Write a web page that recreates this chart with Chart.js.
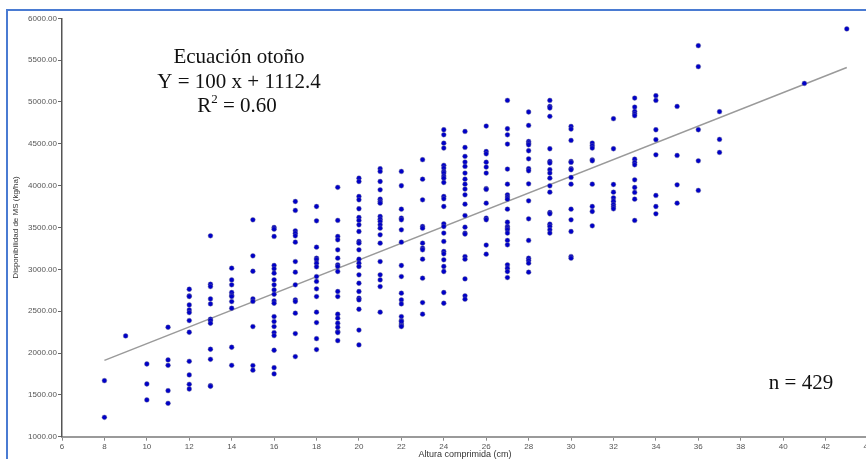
<!DOCTYPE html>
<html>
<head>
<meta charset="utf-8">
<title>Disponibilidad de MS vs altura comprimida</title>
<script src="https://cdn.jsdelivr.net/npm/chart.js@4/dist/chart.umd.min.js"></script>
<style>
  html, body { margin: 0; padding: 0; background: #ffffff; overflow: hidden; }
  #wrap { position: relative; width: 880px; height: 470px; }
</style>
</head>
<body>
<div id="wrap"><canvas id="chart" width="880" height="470"></canvas></div>
<script>
// Altura comprimida (cm) de cada grupo de muestras
const alturas = [8, 9, 10, 11, 12, 13, 14, 15, 16, 17, 18, 19, 20, 21, 22, 23, 24, 25, 26,
                 27, 28, 29, 30, 31, 32, 33, 34, 35, 36, 37, 41, 43];

// Disponibilidad de MS (kg/ha) medida en cada altura
const disponibilidad = [
  [1670, 1231],
  [2204],
  [1869, 1630, 1439],
  [2308, 1917, 1853, 1550, 1399],
  [2762, 2683, 2675, 2575, 2515, 2483, 2388, 2248, 1901, 1738, 1626, 1570],
  [3401, 2822, 2794, 2647, 2587, 2404, 2388, 2356, 2045, 1925, 1610, 1602],
  [3014, 2874, 2815, 2723, 2691, 2675, 2615, 2535, 2069, 1853],
  [3592, 3161, 2977, 2647, 2617, 2316, 1850, 1795],
  [3500, 3480, 3393, 3046, 3006, 2954, 2875, 2815, 2754, 2702, 2623, 2595, 2435, 2376, 2316, 2244, 2208, 2033, 1825, 1750],
  [3811, 3704, 3460, 3432, 3400, 3325, 3093, 2966, 2815, 2635, 2615, 2476, 2232, 1957],
  [3751, 3580, 3265, 3133, 3114, 3074, 3030, 2914, 2855, 2767, 2675, 2488, 2364, 2172, 2041],
  [3980, 3585, 3393, 3353, 3233, 3133, 3054, 3034, 2974, 2735, 2675, 2464, 2416, 2356, 2308, 2256, 2244, 2148],
  [4090, 4050, 3871, 3831, 3724, 3620, 3585, 3532, 3452, 3333, 3313, 3233, 3121, 3074, 3034, 2934, 2834, 2735, 2655, 2635, 2523, 2274, 2097],
  [4202, 4170, 4050, 3950, 3839, 3811, 3791, 3632, 3600, 3572, 3532, 3492, 3413, 3313, 3093, 2934, 2874, 2794, 2488],
  [4170, 3999, 3719, 3612, 3592, 3472, 3325, 3046, 2914, 2715, 2635, 2587, 2435, 2388, 2348, 2376, 2328, 2316],
  [4310, 4077, 3831, 3512, 3492, 3313, 3253, 3233, 3121, 2894, 2603, 2464],
  [4668, 4608, 4508, 4449, 4243, 4210, 4170, 4150, 4114, 4090, 4038, 3871, 3843, 3751, 3544, 3512, 3433, 3333, 3213, 3186, 3114, 3034, 2974, 2723, 2595],
  [4648, 4457, 4350, 4282, 4230, 4150, 4078, 4018, 3959, 3890, 3779, 3643, 3504, 3433, 3421, 3153, 3121, 2886, 2683, 2643],
  [4712, 4408, 4380, 4280, 4222, 4150, 3965, 3955, 3791, 3612, 3592, 3290, 3181],
  [5019, 4680, 4608, 4497, 4198, 4018, 3891, 3863, 3839, 3719, 3564, 3512, 3492, 3472, 3433, 3345, 3293, 3054, 3014, 2974, 2902],
  [4880, 4720, 4528, 4508, 4488, 4417, 4321, 4202, 4178, 4022, 3819, 3604, 3345, 3133, 3106, 3074, 2966],
  [5019, 4948, 4928, 4828, 4441, 4290, 4270, 4190, 4150, 4090, 3998, 3922, 3679, 3664, 3540, 3512, 3472, 3433],
  [4708, 4676, 4541, 4290, 4278, 4202, 4190, 4098, 4018, 3719, 3592, 3452, 3153, 3133],
  [4509, 4477, 4449, 4309, 4297, 4018, 3751, 3691, 3520],
  [4800, 4441, 4014, 3922, 3855, 3815, 3775, 3747, 3723],
  [5047, 4939, 4887, 4859, 4836, 4317, 4277, 4249, 4070, 3978, 3919, 3839, 3584],
  [5075, 5019, 4668, 4549, 4369, 3883, 3751, 3664],
  [4947, 4361, 4010, 3791],
  [5673, 5422, 4668, 4297, 3943],
  [4884, 4553, 4397],
  [5222],
  [5873]
];

// Recta de ajuste: Y = 100 x + 1112.4, trazada entre la menor y la mayor altura
const pendiente = 100;
const intercepto = 1112.4;
const rangoRecta = [8, 43];

// Textos del gráfico
const tituloEcuacion = 'Ecuación otoño';
const textoEcuacion = 'Y = 100 x + 1112.4';
const textoR2 = ['R', '2', ' = 0.60'];
const textoN = 'n = 429';
const tituloX = 'Altura comprimida (cm)';
const tituloY = 'Disponibilidad de MS (kg/ha)';

const puntos = [];
alturas.forEach((x, i) => disponibilidad[i].forEach(y => puntos.push({ x, y })));
const recta = rangoRecta.map(x => ({ x, y: pendiente * x + intercepto }));

const marco = {
  id: 'marco',
  beforeDraw(chart) {
    const ctx = chart.ctx;
    ctx.save();
    ctx.fillStyle = '#ffffff';
    ctx.fillRect(0, 0, chart.width, chart.height);
    ctx.strokeStyle = '#4a7bd2';
    ctx.lineWidth = 2;
    ctx.beginPath();
    ctx.moveTo(7, chart.height + 5);
    ctx.lineTo(7, 10);
    ctx.lineTo(chart.width + 5, 10);
    ctx.stroke();
    ctx.restore();
  }
};

const rotulos = {
  id: 'rotulos',
  afterDraw(chart) {
    const ctx = chart.ctx;
    ctx.save();
    ctx.fillStyle = '#111111';
    ctx.textBaseline = 'alphabetic';
    ctx.font = '21px "Liberation Serif", "Times New Roman", serif';
    ctx.textAlign = 'center';
    ctx.fillText(tituloEcuacion, 239, 63);
    ctx.fillText(textoEcuacion, 239, 88);

    // R² con el exponente dibujado más pequeño y elevado
    const big = '21px "Liberation Serif", "Times New Roman", serif';
    const small = '13px "Liberation Serif", "Times New Roman", serif';
    ctx.textAlign = 'left';
    ctx.font = big;
    const wR = ctx.measureText(textoR2[0]).width;
    const wRest = ctx.measureText(textoR2[2]).width;
    ctx.font = small;
    const w2 = ctx.measureText(textoR2[1]).width;
    let x0 = 237 - (wR + w2 + wRest) / 2;
    ctx.font = big;
    ctx.fillText(textoR2[0], x0, 112);
    ctx.font = small;
    ctx.fillText(textoR2[1], x0 + wR, 103);
    ctx.font = big;
    ctx.fillText(textoR2[2], x0 + wR + w2, 112);

    ctx.textAlign = 'center';
    ctx.fillText(textoN, 801, 389);
    ctx.restore();
  }
};

const fuente = '"Liberation Sans", Arial, sans-serif';

new Chart(document.getElementById('chart'), {
  type: 'scatter',
  data: {
    datasets: [
      {
        label: 'Muestras',
        data: puntos,
        order: 1,
        pointStyle: 'circle',
        pointRadius: 2.4,
        pointBackgroundColor: '#0000c8',
        pointBorderColor: 'rgba(110,110,150,0.7)',
        pointBorderWidth: 0.6,
        showLine: false
      },
      {
        label: 'Ajuste',
        data: recta,
        type: 'line',
        order: 2,
        showLine: true,
        borderColor: '#9a9a9a',
        borderWidth: 1.5,
        pointRadius: 0,
        fill: false
      }
    ]
  },
  options: {
    responsive: false,
    animation: false,
    devicePixelRatio: 1,
    layout: { padding: { top: 18.3, left: 0, right: 12, bottom: 0 } },
    plugins: {
      legend: { display: false },
      tooltip: { enabled: false },
      title: { display: false }
    },
    scales: {
      x: {
        type: 'linear',
        min: 6,
        max: 44,
        afterFit(scale) { scale.height = 33.3; },
        border: { display: true, color: '#9a9a9a', width: 2 },
        grid: { drawOnChartArea: false, drawTicks: true, tickLength: 4, tickColor: '#888888', tickWidth: 1 },
        ticks: {
          stepSize: 2,
          padding: 1,
          maxRotation: 0,
          autoSkip: false,
          color: '#555555',
          font: { family: fuente, size: 8 }
        },
        title: {
          display: true,
          text: tituloX,
          color: '#333333',
          font: { family: fuente, size: 9 },
          padding: { top: 0, bottom: 9.6 }
        }
      },
      y: {
        type: 'linear',
        min: 1000,
        max: 6000,
        afterFit(scale) { scale.width = 62; },
        border: { display: true, color: '#555555', width: 1.5 },
        grid: { drawOnChartArea: false, drawTicks: true, tickLength: 4, tickColor: '#666666', tickWidth: 1 },
        ticks: {
          stepSize: 500,
          padding: 1,
          color: '#555555',
          font: { family: fuente, size: 8 },
          callback: v => Number(v).toFixed(2)
        },
        title: {
          display: true,
          text: tituloY,
          color: '#333333',
          font: { family: fuente, size: 8 },
          padding: { top: 11.2, bottom: 0 }
        }
      }
    }
  },
  plugins: [marco, rotulos]
});
</script>
</body>
</html>
